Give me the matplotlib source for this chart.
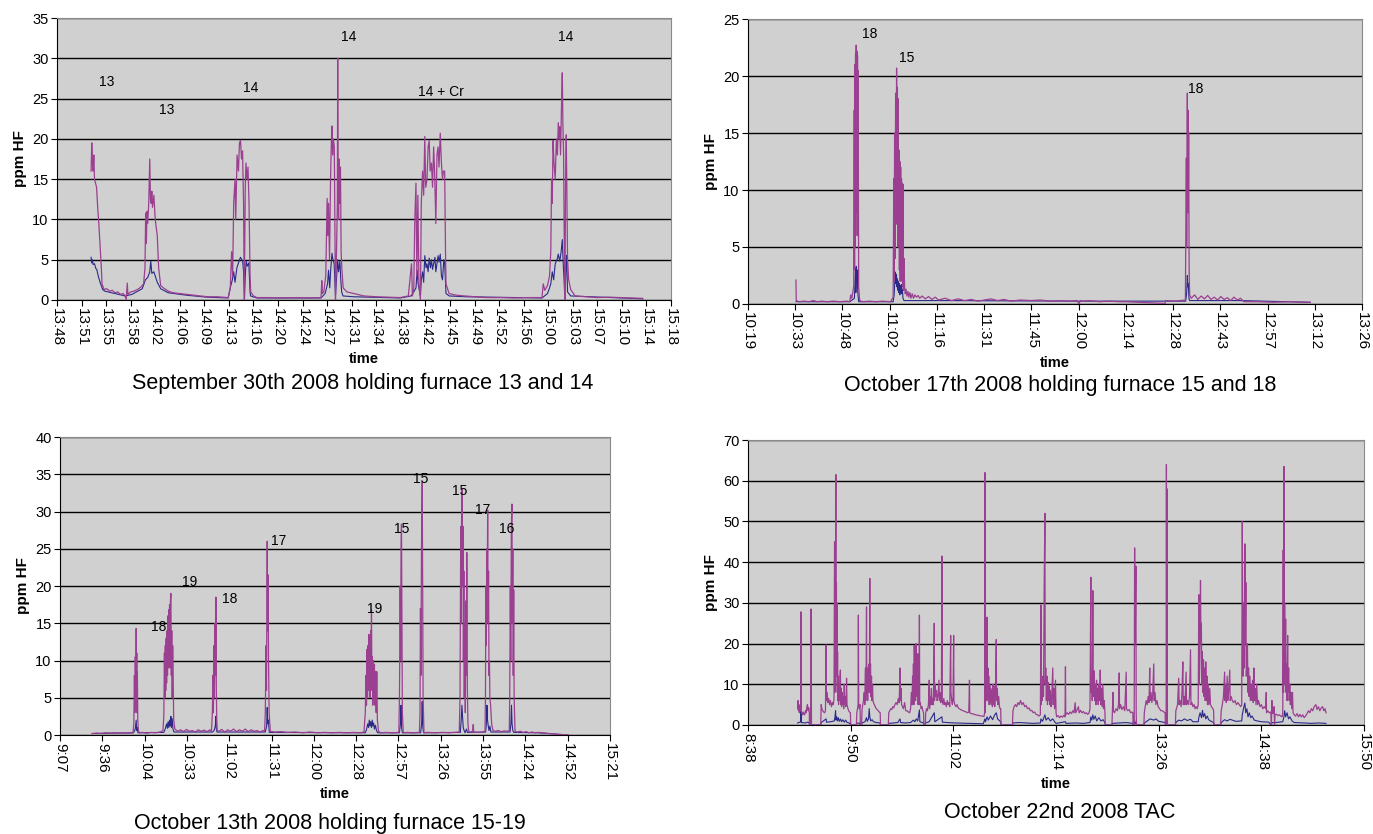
import numpy as np
import matplotlib
matplotlib.use("Agg")
from matplotlib import pyplot as plt

plt.rcParams['font.family'] = ['Liberation Sans', 'DejaVu Sans']

MAG = '#9b3f91'   # ppm HF, upper trace
NAVY = '#2b2a8a'  # lower trace
BG = '#d0d0d0'

# ---------------- September 30th (minutes after 13:48) ----------------
sep30_ticks = ['13:48', '13:51', '13:55', '13:58', '14:02', '14:06', '14:09', '14:13', '14:16',
               '14:20', '14:24', '14:27', '14:31', '14:34', '14:38', '14:42', '14:45', '14:49',
               '14:52', '14:56', '15:00', '15:03', '15:07', '15:10', '15:14', '15:18']
sep30_mag = [
    (5.0, 16.0), (5.1, 19.5), (5.2, 17.0), (5.3, 16.0), (5.4, 18.0), (5.5, 15.0), (5.65, 14.5),
    (5.8, 14.0), (6.0, 11.0), (6.1, 10.0), (6.3, 7.0), (6.5, 4.0), (6.6, 2.0), (6.9, 1.3),
    (7.3, 1.4), (7.7, 1.1), (8.1, 1.2), (8.5, 0.9), (8.9, 1.0), (9.3, 0.7), (9.7, 0.8),
    (10.0, 0.5), (10.15, 0.0), (10.3, 2.1), (10.4, 0.7), (10.8, 1.0), (11.3, 1.1), (11.8, 1.3),
    (12.3, 1.6), (12.7, 2.0), (12.9, 4.0), (13.0, 10.8), (13.1, 7.0), (13.2, 11.0), (13.3, 9.5),
    (13.45, 12.0), (13.6, 17.5), (13.7, 12.5), (13.8, 12.0), (13.9, 13.5), (14.0, 11.5),
    (14.2, 13.0), (14.4, 10.0), (14.7, 8.0), (14.9, 4.0), (15.2, 1.8), (15.6, 1.5), (16.3, 1.1),
    (17.0, 0.9), (18.0, 0.8), (19.0, 0.7), (20.0, 0.6), (21.0, 0.5), (22.2, 0.4), (23.5, 0.4),
    (25.1, 0.3), (25.4, 1.5), (25.6, 6.0), (25.75, 3.0), (25.9, 12.0), (26.1, 15.0), (26.2, 10.0),
    (26.4, 18.0), (26.6, 16.0), (26.75, 19.5), (26.9, 19.8), (27.05, 17.5), (27.2, 18.5),
    (27.35, 12.0), (27.45, 0.0), (27.6, 14.0), (27.7, 17.0), (27.85, 15.0), (28.0, 16.5),
    (28.15, 12.0), (28.3, 3.0), (28.4, 1.0), (28.8, 0.5), (29.3, 0.3), (31, 0.3), (33, 0.25),
    (35, 0.3), (37, 0.25), (38.7, 0.3), (38.82, 2.4), (38.9, 0.8), (39.1, 1.0), (39.4, 3.0),
    (39.6, 12.6), (39.7, 8.0), (39.8, 12.0), (39.95, 5.0), (40.1, 15.0), (40.2, 19.0),
    (40.3, 21.6), (40.4, 18.0), (40.5, 20.0), (40.65, 19.0), (40.75, 8.0), (40.82, 0.0),
    (40.95, 5.0), (41.1, 12.0), (41.15, 30.0), (41.2, 14.0), (41.28, 10.0), (41.35, 17.5),
    (41.45, 12.0), (41.55, 16.5), (41.65, 6.0), (41.75, 4.0), (41.95, 1.5), (42.5, 1.0),
    (43.5, 0.8), (45, 0.5), (46.8, 0.4), (48.5, 0.35), (50.3, 0.3), (51.5, 0.5), (51.97, 4.5),
    (52.1, 0.5), (52.3, 1.5), (52.45, 10.0), (52.62, 14.5), (52.75, 3.0), (52.9, 13.0),
    (53.05, 2.0), (53.27, 0.0), (53.4, 12.0), (53.59, 16.0), (53.75, 13.0), (53.91, 20.3),
    (54.05, 14.0), (54.24, 15.0), (54.4, 19.0), (54.56, 19.8), (54.7, 16.0), (54.89, 17.0),
    (55.05, 14.0), (55.21, 19.0), (55.35, 16.0), (55.53, 9.5), (55.7, 18.0), (55.86, 19.0),
    (56.0, 16.5), (56.18, 20.7), (56.35, 17.0), (56.51, 15.0), (56.65, 16.0), (56.83, 16.0),
    (56.95, 6.0), (57.02, 2.0), (57.48, 0.8), (58.5, 0.6), (59.75, 0.5), (61.3, 0.4), (63.0, 0.3),
    (65, 0.3), (67, 0.25), (69, 0.3), (71.09, 0.3), (71.28, 2.0), (71.5, 1.2), (71.9, 1.8),
    (72.2, 3.0), (72.38, 6.0), (72.5, 15.0), (72.6, 12.0), (72.71, 19.8), (72.85, 17.0),
    (73.03, 15.0), (73.2, 20.0), (73.35, 18.0), (73.48, 22.0), (73.6, 20.0), (73.7, 21.5),
    (73.81, 18.0), (73.95, 24.0), (74.07, 28.2), (74.15, 22.0), (74.26, 18.0), (74.35, 8.0),
    (74.45, 0.0), (74.55, 15.0), (74.65, 20.5), (74.75, 12.0), (74.84, 5.0), (75.0, 2.5),
    (75.3, 1.3), (75.95, 0.5), (77.5, 0.4), (79.2, 0.3), (81, 0.35), (82.4, 0.3), (84, 0.25),
    (85.86, 0.2)]
sep30_navy = [
    (5.0, 5.3), (5.1, 4.6), (5.2, 5.0), (5.3, 4.4), (5.5, 4.5), (5.7, 3.9), (5.83, 3.8),
    (6.1, 2.8), (6.4, 2.0), (6.7, 1.3), (7.0, 1.1), (8, 0.9), (9, 0.7), (10, 0.5), (11, 0.7),
    (12.5, 1.4), (12.96, 2.5), (13.3, 2.8), (13.6, 3.5), (13.75, 4.8), (13.9, 3.3), (14.2, 3.5),
    (14.7, 2.2), (15.2, 1.4), (16.3, 0.9), (18.9, 0.6), (22, 0.35), (25.1, 0.25), (25.4, 1.5),
    (25.7, 2.5), (25.9, 3.5), (26.1, 2.2), (26.37, 4.0), (26.6, 4.6), (26.89, 5.3), (27.1, 5.0),
    (27.22, 4.8), (27.35, 3.5), (27.48, 0.0), (27.6, 3.0), (27.73, 4.8), (27.9, 4.2),
    (28.12, 4.6), (28.3, 1.0), (28.38, 0.5), (29.3, 0.25), (38.7, 0.25), (39.3, 0.8),
    (39.66, 2.0), (39.8, 3.7), (39.98, 1.5), (40.1, 3.5), (40.31, 5.8), (40.45, 5.0),
    (40.63, 4.5), (40.82, 0.5), (41.0, 3.0), (41.15, 5.0), (41.28, 3.5), (41.47, 4.8),
    (41.6, 2.5), (41.73, 1.0), (41.93, 0.5), (43.5, 0.4), (50.3, 0.25), (51.9, 0.5), (52.3, 1.0),
    (52.62, 1.5), (52.8, 3.7), (52.94, 2.0), (53.27, 0.5), (53.4, 2.5), (53.59, 3.5),
    (53.75, 2.2), (53.91, 5.5), (54.1, 4.0), (54.24, 4.5), (54.4, 3.5), (54.56, 5.2), (54.75, 4.0),
    (54.89, 5.0), (55.05, 3.8), (55.21, 4.5), (55.4, 5.3), (55.53, 3.5), (55.7, 4.5), (55.86, 5.5),
    (56.0, 4.7), (56.18, 5.7), (56.35, 3.0), (56.51, 2.5), (56.7, 5.0), (56.83, 4.5), (57.02, 0.8),
    (57.5, 0.5), (60, 0.4), (71.1, 0.25), (71.9, 0.8), (72.2, 1.5), (72.38, 2.0), (72.6, 3.5),
    (72.8, 2.5), (73.03, 4.5), (73.3, 5.0), (73.48, 5.7), (73.7, 4.8), (73.9, 6.0), (74.07, 7.5),
    (74.2, 4.5), (74.3, 3.0), (74.45, 0.0), (74.6, 4.0), (74.7, 5.5), (74.84, 1.0), (75.3, 0.5),
    (85.86, 0.15)]
sep30_notes = [(7.3, 27.1, '13'), (16.1, 23.6, '13'), (28.4, 26.3, '14'), (42.8, 32.6, '14'),
               (56.3, 25.8, '14 + Cr'), (74.6, 32.6, '14')]

# ---------------- October 17th (minutes after 10:19) ----------------
oct17_ticks = ['10:19', '10:33', '10:48', '11:02', '11:16', '11:31', '11:45', '12:00', '12:14',
               '12:28', '12:43', '12:57', '13:12', '13:26']
oct17_mag = [
    (14.6, 2.1), (14.7, 0.3), (15.5, 0.2), (17, 0.25), (18.5, 0.2), (20, 0.3), (21, 0.2),
    (22.5, 0.25), (24, 0.2), (26, 0.25), (28, 0.2), (30, 0.25), (31.0, 0.2), (31.3, 0.8),
    (31.6, 0.5), (31.9, 1.0), (32.2, 1.6), (32.35, 17.0), (32.45, 3.0), (32.55, 21.0),
    (32.65, 5.0), (32.75, 22.0), (32.85, 8.0), (32.95, 22.7), (33.05, 12.0), (33.15, 22.2),
    (33.25, 6.0), (33.35, 21.8), (33.45, 9.0), (33.55, 20.5), (33.7, 1.5), (34.0, 0.3),
    (35, 0.2), (37, 0.25), (39, 0.2), (41, 0.25), (43.4, 0.2), (44.2, 0.6), (44.4, 11.0),
    (44.5, 2.0), (44.65, 15.0), (44.8, 4.0), (44.95, 18.5), (45.1, 7.0), (45.25, 20.7),
    (45.4, 9.0), (45.5, 19.0), (45.6, 5.0), (45.75, 18.0), (45.85, 6.0), (46.0, 13.5),
    (46.1, 3.0), (46.25, 12.5), (46.35, 2.0), (46.5, 12.0), (46.6, 3.0), (46.75, 11.0),
    (46.85, 2.0), (47.0, 10.6), (47.1, 1.5), (47.25, 10.5), (47.35, 1.2), (47.5, 4.0),
    (47.7, 1.4), (47.9, 0.9), (48.1, 1.3), (48.4, 0.7), (48.7, 1.1), (49.0, 0.6), (49.3, 1.0),
    (49.6, 0.5), (50.0, 0.9), (50.4, 0.5), (50.8, 0.8), (51.3, 0.6), (51.8, 0.75), (52.3, 0.5),
    (53, 0.7), (54, 0.45), (55, 0.65), (56, 0.4), (57, 0.6), (58, 0.35), (60, 0.5), (62, 0.3),
    (64, 0.45), (66, 0.3), (68, 0.4), (70, 0.25), (72, 0.35), (74, 0.45), (76, 0.3), (78, 0.4),
    (80, 0.25), (83, 0.35), (86, 0.3), (89, 0.35), (92, 0.25), (95, 0.3), (98, 0.25),
    (100.2, 0.3), (100.8, 0.0), (101.2, 0.3), (102, 0.25), (104, 0.3), (107, 0.2), (110, 0.25),
    (113, 0.2), (115, 0.2), (127, 0.05), (127.2, 0.3), (130, 0.25), (133.2, 0.35),
    (133.5, 12.8), (133.6, 5.0), (133.8, 18.5), (133.9, 10.0), (134.0, 17.0), (134.1, 8.0),
    (134.2, 15.0), (134.35, 3.0), (134.5, 0.8), (135, 0.5), (136, 0.8), (137, 0.4), (138, 0.7),
    (139, 0.45), (140, 0.75), (141, 0.4), (142, 0.6), (143, 0.35), (144, 0.65), (145, 0.4),
    (146, 0.55), (147, 0.3), (148, 0.6), (149, 0.35), (150, 0.5), (151, 0.2), (155, 0.2),
    (160, 0.15), (165, 0.2), (171.2, 0.15)]
oct17_navy = [
    (14.6, 0.2), (31, 0.2), (32.4, 0.5), (32.6, 2.0), (32.75, 3.1), (32.85, 1.0), (32.95, 3.3),
    (33.1, 2.0), (33.2, 3.0), (33.35, 1.5), (33.5, 0.8), (33.7, 0.2), (44.2, 0.2), (44.5, 0.8),
    (44.7, 2.0), (44.9, 2.8), (45.05, 1.8), (45.2, 2.6), (45.35, 1.5), (45.5, 2.2), (45.65, 1.2),
    (45.8, 2.0), (45.95, 1.0), (46.1, 1.8), (46.25, 0.8), (46.4, 1.6), (46.55, 1.0), (46.7, 1.7),
    (46.85, 0.9), (47.0, 1.3), (47.2, 0.5), (47.5, 0.3), (60, 0.3), (100, 0.25), (133.3, 0.25),
    (133.6, 1.0), (133.8, 2.5), (133.95, 1.5), (134.1, 1.8), (134.3, 0.5), (134.5, 0.3),
    (150, 0.3), (171.2, 0.15)]
oct17_notes = [(37.2, 23.7, '18'), (48.4, 21.6, '15'), (136.4, 18.9, '18')]

# ---------------- October 13th (minutes after 9:07) ----------------
oct13_ticks = ['9:07', '9:36', '10:04', '10:33', '11:02', '11:31', '12:00', '12:28', '12:57',
               '13:26', '13:55', '14:24', '14:52', '15:21']
oct13_mag = [
    (21.9, 0.2), (25, 0.25), (28, 0.2), (31, 0.3), (34, 0.25), (37, 0.3), (40, 0.25), (43, 0.3),
    (46, 0.25), (49.6, 0.3), (50.2, 1.5), (50.6, 8.0), (50.9, 3.0), (51.2, 10.5), (51.5, 4.0),
    (51.8, 14.3), (52.0, 6.0), (52.2, 11.0), (52.4, 3.0), (52.6, 8.5), (52.9, 2.0), (53.3, 0.6),
    (54.1, 0.3), (56, 0.35), (59, 0.25), (62, 0.35), (65, 0.3), (68, 0.4), (70.0, 0.6),
    (70.6, 2.5), (71.0, 11.0), (71.3, 5.0), (71.6, 12.0), (71.9, 6.0), (72.2, 13.0), (72.5, 7.0),
    (72.8, 14.0), (73.1, 8.0), (73.4, 16.0), (73.7, 9.0), (73.9, 16.8), (74.2, 10.0),
    (74.5, 17.5), (74.8, 9.0), (75.1, 18.0), (75.4, 19.0), (75.7, 8.0), (76.0, 14.0), (76.3, 5.0),
    (76.6, 12.0), (76.9, 8.5), (77.3, 2.0), (78.1, 0.8), (80, 0.5), (82, 0.7), (84, 0.45),
    (86, 0.75), (88, 0.5), (90, 0.6), (92, 0.4), (94, 0.7), (96, 0.5), (98, 0.65), (100, 0.45),
    (102, 0.7), (103.0, 0.5), (103.6, 3.0), (104.0, 8.0), (104.3, 3.0), (104.7, 12.0),
    (105.0, 5.0), (105.4, 15.0), (105.7, 8.0), (106.0, 18.5), (106.3, 6.0), (106.6, 2.0),
    (106.9, 0.6), (108, 0.5), (110, 0.75), (112, 0.4), (114, 0.7), (116, 0.5), (118, 0.8),
    (120, 0.45), (122, 0.7), (124, 0.5), (126, 0.8), (128, 0.45), (130, 0.7), (132, 0.5),
    (134, 0.6), (136, 0.4), (138, 0.6), (139.1, 0.5), (139.6, 3.0), (140.1, 12.0), (140.4, 6.0),
    (140.9, 26.0), (141.2, 14.0), (141.5, 21.5), (141.8, 10.0), (142.2, 3.0), (143.0, 0.5),
    (146, 0.4), (150, 0.45), (155, 0.35), (160, 0.4), (165, 0.3), (170, 0.4), (175, 0.3),
    (180, 0.35), (185, 0.3), (190, 0.35), (195, 0.3), (200, 0.35), (204, 0.3), (206.7, 0.4),
    (207.6, 3.0), (208.0, 8.0), (208.4, 4.0), (208.8, 11.5), (209.1, 5.0), (209.4, 12.0),
    (209.7, 6.0), (210.0, 13.5), (210.3, 7.0), (210.6, 12.5), (210.9, 5.0), (211.2, 14.0),
    (211.5, 9.0), (211.8, 16.8), (212.1, 6.0), (212.4, 10.5), (212.7, 4.0), (213.0, 10.0),
    (213.4, 5.0), (213.8, 9.5), (214.2, 4.0), (214.6, 8.5), (215.0, 3.0), (215.4, 8.5),
    (215.8, 2.0), (216.6, 0.5), (218, 0.3), (222, 0.35), (226, 0.3), (230.4, 0.35), (230.8, 5.0),
    (231.1, 12.0), (231.3, 20.0), (231.6, 10.0), (231.9, 25.0), (232.2, 28.3), (232.5, 15.0),
    (232.8, 3.0), (233.4, 0.3), (236, 0.35), (240, 0.3), (244.4, 0.35), (244.8, 3.0),
    (245.1, 17.0), (245.4, 8.0), (245.8, 25.0), (246.3, 34.0), (246.6, 20.0), (246.9, 5.0),
    (247.5, 0.3), (250, 0.35), (255, 0.3), (260, 0.35), (265, 0.3), (271.5, 0.4), (272.0, 5.0),
    (272.5, 28.0), (272.8, 15.0), (273.1, 30.0), (273.4, 33.0), (273.7, 20.0), (274.0, 28.0),
    (274.3, 10.0), (274.6, 22.0), (274.9, 5.0), (275.2, 15.0), (275.6, 3.0), (276.0, 18.0),
    (276.3, 8.0), (276.6, 24.5), (277.0, 6.0), (277.4, 1.5), (277.9, 0.5), (279, 0.4),
    (280.6, 0.5), (281.0, 1.4), (281.3, 0.4), (284, 0.35), (287, 0.4), (289.0, 0.5),
    (289.3, 5.0), (289.6, 20.0), (289.9, 12.0), (290.2, 25.0), (290.5, 18.0), (290.8, 30.2),
    (291.1, 15.0), (291.4, 22.0), (291.7, 8.0), (292.0, 10.0), (292.3, 5.0), (292.8, 4.0),
    (293.5, 1.5), (294.4, 0.6), (296, 0.5), (298, 0.6), (300, 0.45), (302, 0.55), (304, 0.5),
    (305.5, 0.6), (305.8, 5.0), (306.2, 20.0), (306.5, 10.0), (306.9, 28.0), (307.3, 31.0),
    (307.6, 15.0), (307.9, 25.0), (308.2, 8.0), (308.5, 19.5), (308.8, 5.0), (309.4, 0.5),
    (311, 0.4), (313, 0.5), (315, 0.35), (317, 0.45), (319, 0.3), (321, 0.4), (323, 0.3),
    (325.3, 0.35), (330, 0.25), (335, 0.15), (340, 0.08), (345.5, 0.0)]
oct13_navy = [
    (21.9, 0.2), (50, 0.3), (51.2, 0.8), (51.8, 2.0), (52.1, 0.6), (52.6, 1.0), (53, 0.3),
    (70.6, 0.35), (71.5, 0.8), (72.5, 1.5), (73.0, 0.9), (73.5, 1.8), (74.0, 1.0), (74.5, 2.0),
    (75.0, 1.2), (75.4, 2.5), (75.8, 1.0), (76.3, 2.2), (76.8, 0.8), (77.5, 0.4), (103.8, 0.4),
    (104.8, 0.6), (105.6, 1.2), (106.0, 2.5), (106.3, 0.8), (106.8, 0.4), (139.6, 0.4),
    (140.5, 1.2), (140.9, 3.7), (141.3, 1.5), (141.7, 2.0), (142.3, 0.35), (207.6, 0.3),
    (208.5, 0.8), (209.2, 1.5), (209.8, 1.0), (210.3, 2.0), (210.8, 1.2), (211.3, 1.8),
    (211.8, 1.0), (212.3, 2.0), (212.8, 1.2), (213.3, 1.6), (213.8, 0.8), (214.5, 1.3),
    (215.2, 0.6), (216.0, 0.3), (230.8, 0.3), (231.5, 1.5), (231.9, 4.0), (232.3, 1.0),
    (232.8, 0.3), (245.2, 0.3), (245.9, 1.5), (246.3, 4.5), (246.7, 1.0), (247.2, 0.3),
    (272.2, 0.35), (272.8, 2.0), (273.3, 4.0), (273.7, 2.5), (274.2, 1.0), (274.8, 0.6),
    (275.4, 0.3), (276.4, 0.8), (277.0, 0.35), (289.4, 0.4), (289.9, 1.5), (290.3, 4.0),
    (290.7, 2.0), (291.2, 1.2), (291.7, 0.6), (292.3, 1.2), (293.0, 0.4), (294.0, 0.4),
    (306.0, 0.4), (306.6, 1.5), (307.0, 4.0), (307.4, 1.5), (307.9, 0.6), (308.5, 0.35),
    (325, 0.3), (345.5, 0.0)]
oct13_notes = [(67.0, 14.5, '18'), (88.0, 20.6, '19'), (115.6, 18.2, '18'), (148.7, 26.1, '17'),
               (213.6, 16.9, '19'), (232.2, 27.6, '15'), (245.4, 34.4, '15'), (271.9, 32.7, '15'),
               (287.5, 30.2, '17'), (304.0, 27.6, '16')]

# ---------------- October 22nd TAC (minutes after 8:38) ----------------
oct22_ticks = ['8:38', '9:50', '11:02', '12:14', '13:26', '14:38', '15:50']
oct22_mag = [
    (34.8, 4.0), (35.1, 6.0), (35.4, 3.5), (35.7, 5.0), (36.0, 3.0), (36.4, 4.5), (36.8, 3.5),
    (37.1, 6.0), (37.2, 27.8), (37.35, 3.5), (37.7, 3.0), (38.2, 2.5), (38.7, 3.2), (39.2, 2.6),
    (39.7, 2.5), (40.3, 3.5), (40.8, 3.0), (41.3, 4.5), (41.7, 5.0), (42.2, 3.5), (42.6, 4.2),
    (43.0, 3.0), (43.1, 0.0), (44.0, 0.0), (44.2, 28.5), (44.35, 17.0), (44.5, 0.0), (51.0, 0.0),
    (51.3, 5.0), (51.8, 4.0), (52.4, 3.5), (53.0, 3.2), (53.7, 3.0), (54.3, 3.5), (54.8, 19.7),
    (55.0, 6.0), (55.5, 8.0), (56.0, 5.5), (56.6, 6.5), (57.2, 5.0), (57.8, 6.0), (58.5, 4.5),
    (59.2, 5.5), (59.8, 5.0), (60.3, 6.5), (60.7, 45.0), (60.9, 8.0), (61.2, 20.0), (61.6, 61.5),
    (61.8, 25.0), (62.0, 35.0), (62.2, 12.0), (62.4, 30.0), (62.6, 8.0), (62.8, 18.0), (63.0, 6.0),
    (63.2, 12.0), (63.5, 5.0), (63.8, 10.0), (64.1, 6.0), (64.5, 12.0), (64.8, 13.5), (65.0, 5.0),
    (65.3, 9.0), (65.6, 4.5), (66.0, 8.0), (66.3, 5.0), (66.7, 7.0), (67.1, 4.0), (67.5, 10.0),
    (67.8, 5.0), (68.2, 7.0), (68.5, 4.5), (68.8, 6.0), (69.1, 11.5), (69.4, 5.0), (69.8, 4.5),
    (70.1, 4.0), (70.6, 3.5), (71.2, 3.2), (71.8, 3.0), (72.0, 0.0), (76.0, 0.0), (76.3, 3.0),
    (76.8, 4.0), (77.2, 5.0), (77.4, 27.0), (77.6, 5.0), (78.0, 4.0), (78.5, 5.0), (78.8, 0.0),
    (79.6, 0.0), (80.0, 4.0), (80.5, 5.0), (81.0, 6.0), (81.5, 8.0), (81.9, 5.0), (82.2, 12.0),
    (82.4, 14.0), (82.6, 6.0), (82.8, 10.0), (83.1, 29.0), (83.3, 8.0), (83.6, 14.0), (83.9, 6.0),
    (84.2, 12.0), (84.6, 9.0), (84.9, 15.0), (85.1, 8.0), (85.4, 36.0), (85.6, 10.0),
    (85.9, 15.0), (86.2, 7.0), (86.6, 12.0), (86.9, 6.0), (87.3, 10.0), (87.6, 6.0), (88.0, 5.5),
    (88.6, 5.0), (89.2, 4.5), (89.9, 4.0), (90.6, 3.8), (91.3, 3.5), (92.0, 3.2), (92.7, 3.0),
    (92.9, 0.0), (98.4, 0.0), (98.7, 3.0), (99.4, 3.5), (100.1, 4.0), (100.8, 3.8), (101.5, 4.5),
    (102.2, 4.2), (103.0, 5.0), (103.8, 5.5), (104.6, 5.0), (105.4, 6.5), (106.0, 5.5),
    (106.6, 14.0), (106.9, 6.0), (107.3, 9.0), (107.7, 5.0), (108.3, 4.5), (109.0, 4.0),
    (109.8, 5.5), (110.6, 3.5), (111.5, 3.5), (112.4, 3.2), (113.3, 3.0), (114.0, 4.0),
    (114.6, 8.0), (115.0, 5.0), (115.4, 12.0), (115.7, 7.0), (116.0, 15.0), (116.3, 5.0),
    (116.6, 19.5), (116.9, 8.0), (117.2, 17.0), (117.5, 6.0), (117.8, 20.0), (118.1, 9.0),
    (118.4, 16.0), (118.7, 7.0), (119.0, 17.5), (119.3, 5.0), (119.6, 12.0), (119.9, 6.0),
    (120.2, 27.0), (120.4, 5.0), (120.8, 5.5), (121.4, 4.0), (122.0, 4.5), (122.6, 3.5),
    (123.1, 3.0), (123.3, 0.0), (124.3, 0.0), (124.6, 3.0), (125.2, 4.0), (125.8, 3.5),
    (126.5, 5.0), (127.1, 11.0), (127.3, 4.0), (127.8, 7.0), (128.2, 5.0), (128.6, 9.0),
    (129.0, 5.0), (129.5, 6.5), (130.0, 5.0), (130.6, 25.0), (130.8, 6.0), (131.2, 10.0),
    (131.6, 7.0), (132.1, 8.5), (132.6, 6.0), (133.2, 7.0), (133.9, 11.0), (134.2, 6.0),
    (134.7, 8.0), (135.2, 5.5), (135.6, 6.0), (136.0, 41.5), (136.2, 6.0), (136.7, 5.0),
    (137.3, 6.5), (137.9, 5.0), (138.5, 5.5), (139.1, 4.5), (139.7, 6.0), (140.3, 5.0),
    (140.9, 5.5), (141.5, 4.5), (142.1, 22.0), (142.3, 8.0), (142.8, 6.0), (143.3, 5.0),
    (143.8, 7.0), (144.2, 22.0), (144.4, 6.0), (145.0, 5.0), (145.8, 4.5), (146.6, 5.0),
    (147.4, 4.2), (148.2, 4.0), (149.0, 3.8), (150, 3.6), (151, 3.5), (152, 3.3), (153, 3.2),
    (154, 3.0), (154.8, 3.2), (155.3, 11.0), (155.5, 3.0), (156.5, 2.8), (158, 2.7),
    (159.5, 2.5), (161, 2.4), (162.5, 2.3), (164, 2.2), (165.5, 2.1), (165.9, 3.0),
    (166.1, 62.0), (166.3, 3.0), (166.7, 8.0), (167.0, 20.0), (167.3, 6.0), (167.6, 26.5),
    (167.9, 10.0), (168.2, 14.0), (168.5, 6.0), (168.8, 12.0), (169.1, 5.0), (169.5, 10.0),
    (169.8, 5.5), (170.2, 9.0), (170.6, 5.0), (171.0, 8.5), (171.4, 4.5), (171.8, 10.0),
    (172.2, 5.0), (172.6, 9.5), (173.0, 4.5), (173.5, 8.0), (174.1, 21.0), (174.3, 6.0),
    (174.8, 9.0), (175.3, 5.0), (175.8, 7.0), (176.3, 4.5), (176.8, 4.0), (177.2, 4.0),
    (177.4, 0.0), (185.4, 0.0), (185.8, 3.5), (186.6, 4.5), (187.5, 5.0), (188.4, 4.5),
    (189.3, 5.5), (190.2, 5.0), (191.1, 6.0), (192.0, 5.0), (193, 5.5), (194, 4.5), (195, 4.8),
    (196, 4.0), (197, 4.2), (198, 3.5), (199, 3.6), (200, 3.0), (201, 3.2), (202, 2.6),
    (203, 2.5), (204, 2.2), (205.0, 2.5), (205.4, 29.5), (205.6, 5.0), (206.0, 10.0),
    (206.4, 6.0), (206.8, 12.0), (207.2, 7.0), (207.7, 35.0), (208.2, 52.0), (208.4, 10.0),
    (208.8, 14.0), (209.2, 6.0), (209.6, 12.0), (210.0, 5.0), (210.4, 10.5), (210.8, 6.0),
    (211.2, 9.5), (211.6, 5.0), (212.0, 8.5), (212.5, 4.5), (213.0, 7.0), (213.7, 14.0),
    (214.0, 5.0), (214.5, 9.0), (215.0, 4.0), (215.6, 11.0), (216.0, 3.0), (216.5, 2.0),
    (217.5, 2.3), (218.5, 1.8), (219.5, 2.2), (220.5, 1.9), (221.5, 2.4), (222.3, 2.0),
    (222.6, 14.3), (222.8, 2.5), (223.8, 3.0), (224.8, 2.6), (225.8, 3.2), (226.8, 2.8),
    (227.8, 3.5), (228.6, 3.0), (229.4, 5.5), (229.8, 3.0), (230.8, 3.8), (231.7, 4.5),
    (232.2, 3.0), (233.2, 3.6), (234.2, 3.0), (235.2, 3.3), (236.2, 2.8), (237.2, 3.0),
    (238.2, 2.6), (239.2, 3.0), (239.8, 4.0), (240.4, 36.3), (240.6, 8.0), (241.0, 12.0),
    (241.4, 6.0), (241.8, 33.0), (242.0, 12.0), (242.4, 7.0), (242.8, 13.3), (243.2, 6.0),
    (243.6, 10.0), (244.0, 5.0), (244.4, 11.0), (244.8, 6.0), (245.2, 9.0), (245.6, 5.0),
    (246.0, 10.0), (246.5, 6.0), (247.0, 13.5), (247.4, 5.0), (247.8, 9.0), (248.3, 4.5),
    (248.8, 10.0), (249.3, 4.0), (249.8, 6.0), (250.3, 3.0), (250.5, 0.0), (255.2, 0.0),
    (255.5, 3.0), (255.9, 8.0), (256.2, 3.5), (257.0, 3.0), (258.0, 4.0), (259.0, 3.5),
    (259.8, 5.0), (260.3, 12.8), (260.5, 4.0), (261.3, 5.0), (262.2, 3.8), (263.2, 4.5),
    (264.2, 3.5), (265.2, 13.0), (265.4, 4.0), (266.3, 3.5), (267.3, 3.8), (268.3, 3.0),
    (269.2, 3.2), (269.9, 3.0), (270.0, 0.0), (270.8, 0.0), (271.1, 43.5), (271.5, 20.0),
    (272.0, 39.0), (272.2, 3.0), (272.4, 0.0), (277.6, 0.0), (277.9, 3.0), (278.5, 4.5),
    (279.2, 6.0), (279.9, 5.0), (280.6, 7.0), (281.2, 5.5), (281.7, 14.0), (282.0, 6.0),
    (282.6, 8.0), (283.2, 5.5), (283.8, 7.5), (284.5, 15.0), (284.8, 6.0), (285.4, 8.0),
    (286.0, 5.0), (286.8, 6.0), (287.6, 4.5), (288.6, 4.0), (289.6, 3.5), (290.6, 3.5),
    (291.6, 3.2), (292.5, 3.0), (292.7, 0.0), (293.2, 0.0), (293.4, 64.0), (293.6, 0.0),
    (293.8, 58.0), (294.0, 0.0), (299.7, 0.0), (300.0, 3.5), (300.4, 4.0), (301.2, 5.0),
    (302.0, 11.5), (302.3, 5.0), (303.0, 6.0), (303.7, 4.5), (304.3, 8.0), (304.9, 15.5),
    (305.2, 5.0), (305.8, 7.0), (306.4, 5.0), (307.2, 13.0), (307.5, 5.0), (308.2, 6.0),
    (308.9, 5.0), (309.6, 7.0), (310.3, 18.5), (310.6, 5.0), (311.3, 5.5), (312.0, 4.5),
    (312.8, 5.0), (313.5, 4.0), (314.2, 4.5), (315.0, 4.0), (315.7, 5.0), (316.1, 32.0),
    (316.4, 10.0), (316.8, 15.0), (317.3, 35.5), (317.6, 20.0), (317.9, 25.0), (318.2, 10.0),
    (318.6, 18.0), (319.0, 8.0), (319.4, 16.0), (319.8, 7.0), (320.2, 14.0), (320.6, 6.0),
    (321.0, 15.5), (321.4, 6.0), (321.8, 12.0), (322.2, 5.0), (322.7, 10.0), (323.2, 5.0),
    (323.8, 9.0), (324.3, 5.0), (325.0, 4.5), (326.0, 4.0), (326.5, 3.5), (326.7, 0.0),
    (331.4, 0.0), (331.8, 3.5), (332.6, 5.0), (333.4, 7.0), (334.2, 13.0), (334.5, 6.0),
    (335.0, 10.0), (335.4, 5.5), (336.0, 12.0), (336.4, 6.0), (337.0, 8.0), (337.8, 13.5),
    (338.1, 6.0), (338.8, 7.0), (339.6, 6.0), (340.5, 5.5), (341.5, 6.0), (342.5, 5.0),
    (343.5, 5.5), (344.5, 5.0), (345.5, 4.5), (346.2, 5.0), (346.6, 50.0), (346.9, 25.0),
    (347.3, 12.0), (347.7, 30.0), (348.1, 14.0), (348.4, 44.5), (348.7, 20.0), (349.1, 35.0),
    (349.4, 12.0), (349.8, 15.0), (350.2, 20.0), (350.6, 8.0), (351.0, 14.0), (351.4, 7.0),
    (351.8, 12.0), (352.3, 6.0), (352.8, 10.0), (353.3, 6.0), (353.8, 11.0), (354.3, 5.5),
    (354.8, 14.0), (355.2, 6.0), (355.7, 9.0), (356.2, 5.0), (356.7, 10.0), (357.3, 5.0),
    (358.0, 6.0), (359.0, 4.5), (360.0, 5.0), (361.0, 4.0), (362.0, 4.5), (363.0, 4.0),
    (363.4, 8.0), (363.6, 3.0), (364.5, 3.5), (365.5, 3.0), (366.6, 3.2), (367.0, 0.0),
    (367.4, 6.0), (367.6, 3.0), (368.4, 2.8), (368.9, 4.5), (369.2, 0.0), (369.6, 2.5),
    (370.5, 2.7), (371.5, 2.3), (372.5, 2.5), (373.5, 2.2), (374.5, 2.0), (375.0, 3.0),
    (375.3, 43.0), (375.5, 8.0), (375.8, 63.5), (376.0, 10.0), (376.3, 30.0), (376.6, 12.0),
    (377.0, 26.0), (377.3, 8.0), (377.7, 15.0), (378.0, 6.0), (378.4, 22.0), (378.7, 8.0),
    (379.1, 14.0), (379.5, 6.0), (379.9, 10.0), (380.3, 5.0), (380.8, 8.0), (381.3, 4.0),
    (381.8, 8.0), (382.2, 3.0), (383.0, 2.5), (384.0, 2.2), (385.0, 2.8), (386.0, 2.0),
    (387.0, 2.6), (388.0, 2.0), (389.0, 2.5), (390.0, 1.8), (391.0, 2.2), (392.0, 2.8),
    (393.0, 3.5), (394.0, 3.0), (395.0, 4.0), (396.0, 3.5), (397.0, 4.5), (398.2, 5.0),
    (399.0, 3.8), (400.0, 4.5), (401.0, 3.5), (402.0, 4.2), (402.9, 4.5), (403.8, 3.5),
    (404.6, 4.0), (405.3, 3.0)]
oct22_navy = [
    (34.8, 0.5), (37.0, 0.8), (37.2, 3.5), (37.4, 0.6), (40, 0.5), (42, 0.7), (43.0, 0.5),
    (43.1, 0.0), (44.0, 0.0), (44.2, 1.5), (44.5, 0.0), (51.0, 0.0), (51.3, 0.6), (54.8, 1.5),
    (55.0, 0.7), (58, 0.8), (60.5, 1.0), (61.0, 2.0), (61.4, 3.5), (61.7, 1.2), (62.2, 2.0),
    (62.7, 1.0), (63.3, 1.8), (64.0, 0.9), (64.8, 1.5), (65.6, 0.8), (66.5, 1.3), (67.5, 0.7),
    (68.5, 1.2), (69.5, 0.6), (71, 0.5), (72.0, 0.0), (76.0, 0.0), (76.3, 0.4), (78.0, 0.5),
    (78.8, 0.0), (79.6, 0.0), (80.0, 0.5), (82.0, 0.8), (83.1, 1.8), (83.6, 0.9), (84.5, 1.5),
    (85.0, 4.0), (85.4, 2.0), (86.0, 1.0), (87.0, 1.3), (88, 0.8), (90, 0.6), (92.7, 0.5),
    (92.9, 0.0), (98.4, 0.0), (98.7, 0.4), (102, 0.5), (105, 0.6), (106.6, 1.5), (107, 0.6),
    (110, 0.5), (114, 0.6), (116, 1.2), (117, 0.8), (118, 1.5), (119, 1.0), (120.2, 3.7),
    (120.5, 0.8), (123.1, 0.5), (123.3, 0.0), (124.3, 0.0), (124.6, 0.5), (127, 0.8),
    (130.6, 3.0), (131, 0.8), (136, 2.0), (136.3, 0.7), (140, 0.6), (145, 0.5), (155, 0.4),
    (165, 0.3), (166.1, 1.5), (166.5, 0.8), (167.6, 2.0), (168.5, 1.2), (170, 2.2), (171.5, 1.3),
    (173, 2.5), (174.1, 3.0), (175, 1.5), (176.5, 1.0), (177.2, 0.8), (177.4, 0.0), (185.4, 0.0),
    (185.8, 0.5), (190, 0.6), (195, 0.5), (200, 0.4), (205, 0.5), (205.4, 1.5), (206.5, 0.9),
    (208.2, 2.5), (209, 1.2), (210.5, 1.8), (212, 1.0), (213.7, 1.5), (215, 0.8), (216, 0.4),
    (222.6, 0.8), (223, 0.4), (230, 0.5), (235, 0.4), (239.8, 0.6), (240.4, 2.0), (241.0, 1.2),
    (241.8, 2.5), (242.5, 1.4), (243.5, 2.2), (244.5, 1.0), (246, 1.8), (247.5, 1.0), (249, 1.3),
    (250.3, 0.6), (250.5, 0.0), (255.2, 0.0), (255.5, 0.4), (260, 0.5), (265, 0.6), (269.9, 0.4),
    (270.0, 0.0), (270.8, 0.0), (271.1, 1.0), (272.4, 0.0), (277.6, 0.0), (277.9, 0.5),
    (280, 1.0), (282, 1.5), (284.5, 1.2), (286, 1.5), (288, 0.9), (292.5, 0.6), (292.7, 0.0),
    (293.2, 0.0), (293.4, 1.0), (294.0, 0.0), (299.7, 0.0), (300.0, 0.6), (302, 1.2), (304, 1.0),
    (306, 1.5), (308, 1.1), (310.3, 1.4), (312, 0.8), (315.7, 0.8), (316.1, 1.8), (317, 3.0),
    (318.0, 1.8), (318.7, 3.6), (319.3, 2.0), (320.2, 2.8), (321.0, 1.5), (322.0, 2.2),
    (323.0, 1.3), (324.3, 1.0), (326.5, 0.6), (326.7, 0.0), (331.4, 0.0), (331.8, 0.6),
    (334.2, 1.3), (336, 1.0), (338, 1.4), (342, 0.9), (346.2, 1.0), (346.6, 2.5), (347.4, 4.0),
    (348.4, 5.4), (349.0, 3.0), (349.8, 4.0), (350.6, 2.0), (351.5, 3.0), (352.5, 1.8),
    (353.5, 2.2), (355, 1.2), (357, 1.0), (360, 0.8), (365, 0.7), (367, 0.0), (367.4, 0.6),
    (370, 0.6), (375, 0.8), (375.8, 2.0), (376.3, 3.5), (377.0, 2.0), (378.0, 3.0), (379.0, 1.5),
    (380, 2.0), (381.5, 1.0), (383, 0.6), (390, 0.5), (395, 0.4), (400, 0.5), (405.3, 0.4)]
oct22_notes = []


def minutes(label):
    h, m = label.split(':')
    return int(h) * 60 + int(m)


def draw(ax, mag, navy, ticks, ymax, ystep, notes):
    span = minutes(ticks[-1]) - minutes(ticks[0])
    t, v = zip(*navy)
    ax.plot(t, v, color=NAVY, lw=0.8, zorder=3)
    t, v = zip(*mag)
    ax.plot(t, v, color=MAG, lw=0.9, zorder=4)
    for x, y, s in notes:
        ax.text(x, y, s, ha='center', va='center', fontsize=10, zorder=5)
    ax.set_facecolor(BG)
    ax.set_xlim(0, span)
    ax.set_ylim(0, ymax)
    ax.set_xticks(np.linspace(0, span, len(ticks)))
    ax.set_xticklabels(ticks, rotation=-90, fontsize=11)
    yt = np.arange(0, ymax + 1, ystep)
    ax.set_yticks(yt)
    ax.set_yticklabels([str(int(y)) for y in yt], fontsize=10.5)
    ax.tick_params(axis='both', direction='out', length=4, width=0.8, pad=2)
    ax.yaxis.grid(True, color='black', lw=1.0)
    ax.set_axisbelow(True)
    for side in ('top', 'right'):
        ax.spines[side].set_color('#8a8a8a')
    for side in ('left', 'bottom'):
        ax.spines[side].set_color('black')
    ax.set_xlabel('time', fontsize=10.5, fontweight='bold', labelpad=4)
    ax.set_ylabel('ppm HF', fontsize=11, fontweight='bold', labelpad=4)


fig = plt.figure(figsize=(13.73, 8.34), dpi=100)
ax1 = fig.add_axes([0.0415, 0.6403, 0.4472, 0.3381])
ax2 = fig.add_axes([0.5448, 0.6355, 0.4472, 0.3417])
ax3 = fig.add_axes([0.0437, 0.1187, 0.4006, 0.3573])
ax4 = fig.add_axes([0.5448, 0.1307, 0.4487, 0.3417])

draw(ax1, sep30_mag, sep30_navy, sep30_ticks, 35, 5, sep30_notes)
draw(ax2, oct17_mag, oct17_navy, oct17_ticks, 25, 5, oct17_notes)
draw(ax3, oct13_mag, oct13_navy, oct13_ticks, 40, 5, oct13_notes)
draw(ax4, oct22_mag, oct22_navy, oct22_ticks, 70, 10, oct22_notes)

fig.text(363 / 1373, 1 - 383 / 834, 'September 30th 2008 holding furnace 13 and 14',
         ha='center', va='center', fontsize=15.5)
fig.text(1060 / 1373, 1 - 385 / 834, 'October 17th 2008 holding furnace 15 and 18',
         ha='center', va='center', fontsize=15.5)
fig.text(330 / 1373, 1 - 823 / 834, 'October 13th 2008 holding furnace 15-19',
         ha='center', va='center', fontsize=15.5)
fig.text(1060 / 1373, 1 - 813 / 834, 'October 22nd 2008 TAC',
         ha='center', va='center', fontsize=15.5)

fig.savefig('out.png', dpi=100)
